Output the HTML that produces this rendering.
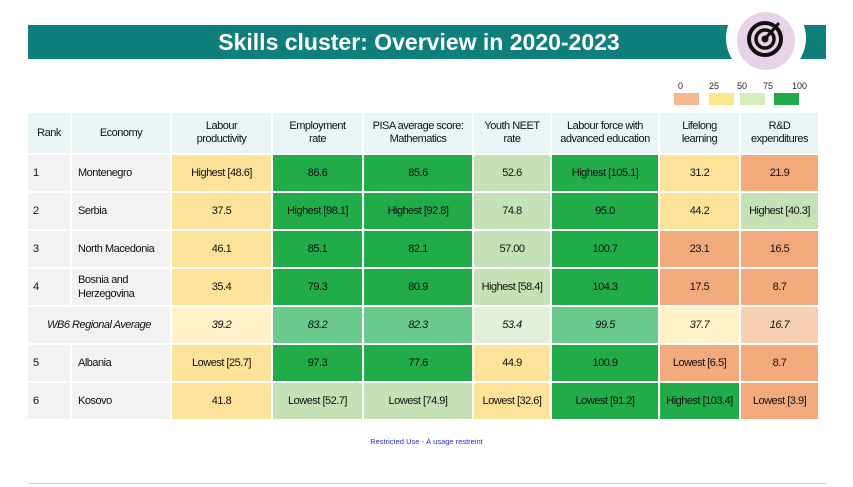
<!DOCTYPE html>
<html><head><meta charset="utf-8"><style>
body{margin:0;width:853px;height:487px;background:#fff;position:relative;overflow:hidden;font-family:"Liberation Sans",sans-serif;}
.bar{position:absolute;left:28px;top:25px;width:798px;height:34px;background:#0e7f7a;color:#fff;font-family:"Liberation Sans",sans-serif;font-weight:bold;font-size:23px;text-align:center;line-height:35px;}
.bar span{position:relative;left:-8px;display:inline-block;}
.ring{position:absolute;left:726px;top:-2px;width:80px;height:80px;border-radius:50%;background:#fff;}
.pink{position:absolute;left:737px;top:12px;width:58px;height:58px;border-radius:50%;background:#e8d3e6;}
.lg{position:absolute;top:93px;height:12px;width:25px;}
.ll{position:absolute;top:81px;font-size:9px;color:#222;}
table{position:absolute;left:28px;top:113px;border-collapse:separate;border-spacing:2px;margin:-2px;font-size:11px;letter-spacing:-0.5px;color:#111;table-layout:fixed;}
td{text-align:center;padding:0;height:36px;white-space:nowrap;}
thead td{background:#eaf4f4;height:40px;line-height:13px;}
td.r{background:#f2f2f2;text-align:left;padding-left:5px;}
td.e{background:#f2f2f2;text-align:left;padding-left:6px;}
.y{background:#fde39a}.g{background:#21ab49}.lgn{background:#c6e1b5}.o{background:#f2aa7d}
.avg td{font-style:italic;}
.avg .y{background:#fff2c8}.avg .g{background:#6acb8d}.avg .lgn{background:#e1efd8}.avg .o{background:#f8cfb2}
.foot{position:absolute;left:0;width:853px;top:437px;text-align:center;font-size:7.5px;color:#2b2bd0;}
.line{position:absolute;left:28px;top:483px;width:798px;height:1px;background:#ccc;}
</style></head><body>
<div class="bar"><span>Skills cluster: Overview in 2020-2023</span></div>
<div class="ring"></div><div class="pink"></div>
<svg style="position:absolute;left:745px;top:15px" width="44" height="44" viewBox="0 0 44 44">
<circle cx="20" cy="24" r="16" fill="none" stroke="#111" stroke-width="4"/>
<circle cx="20" cy="24" r="9" fill="none" stroke="#111" stroke-width="3.5"/>
<circle cx="20" cy="24" r="3.5" fill="#111"/>
<line x1="20" y1="24" x2="34" y2="8" stroke="#111" stroke-width="3"/>
</svg>
<div class="ll" style="left:678px">0</div><div class="ll" style="left:709px">25</div><div class="ll" style="left:737px">50</div><div class="ll" style="left:763px">75</div><div class="ll" style="left:792px">100</div>
<div class="lg" style="left:674px;background:#f5b98e"></div>
<div class="lg" style="left:709px;background:#fbe88a"></div>
<div class="lg" style="left:740px;background:#d3eebd"></div>
<div class="lg" style="left:774px;background:#1eaa4b"></div>
<table>
<thead><tr><td style="width:42px">Rank</td><td style="width:98px">Economy</td><td style="width:99px">Labour<br>productivity</td><td style="width:89px">Employment<br>rate</td><td style="width:108px">PISA average score:<br>Mathematics</td><td style="width:76px">Youth NEET<br>rate</td><td style="width:106px">Labour force with<br>advanced education</td><td style="width:79px">Lifelong<br>learning</td><td style="width:77px">R&amp;D<br>expenditures</td></tr></thead>
<tbody>
<tr><td class="r">1</td><td class="e">Montenegro</td><td class="y">Highest [48.6]</td><td class="g">86.6</td><td class="g">85.6</td><td class="lgn">52.6</td><td class="g">Highest [105.1]</td><td class="y">31.2</td><td class="o">21.9</td></tr>
<tr><td class="r">2</td><td class="e">Serbia</td><td class="y">37.5</td><td class="g">Highest [98.1]</td><td class="g">Highest [92.8]</td><td class="lgn">74.8</td><td class="g">95.0</td><td class="y">44.2</td><td class="lgn">Highest [40.3]</td></tr>
<tr><td class="r">3</td><td class="e">North Macedonia</td><td class="y">46.1</td><td class="g">85.1</td><td class="g">82.1</td><td class="lgn">57.00</td><td class="g">100.7</td><td class="o">23.1</td><td class="o">16.5</td></tr>
<tr><td class="r">4</td><td class="e" style="line-height:14px">Bosnia and<br>Herzegovina</td><td class="y">35.4</td><td class="g">79.3</td><td class="g">80.9</td><td class="lgn">Highest [58.4]</td><td class="g">104.3</td><td class="o">17.5</td><td class="o">8.7</td></tr>
<tr class="avg"><td colspan="2" style="background:#f2f2f2">WB6 Regional Average</td><td class="y">39.2</td><td class="g">83.2</td><td class="g">82.3</td><td class="lgn">53.4</td><td class="g">99.5</td><td class="y">37.7</td><td class="o">16.7</td></tr>
<tr><td class="r">5</td><td class="e">Albania</td><td class="y">Lowest [25.7]</td><td class="g">97.3</td><td class="g">77.6</td><td class="y">44.9</td><td class="g">100.9</td><td class="o">Lowest [6.5]</td><td class="o">8.7</td></tr>
<tr><td class="r">6</td><td class="e">Kosovo</td><td class="y">41.8</td><td class="lgn">Lowest [52.7]</td><td class="lgn">Lowest [74.9]</td><td class="y">Lowest [32.6]</td><td class="g">Lowest [91.2]</td><td class="g">Highest [103.4]</td><td class="o">Lowest [3.9]</td></tr>
</tbody></table>
<div class="foot">Restricted Use - À usage restreint</div>
<div class="line"></div>
</body></html>
